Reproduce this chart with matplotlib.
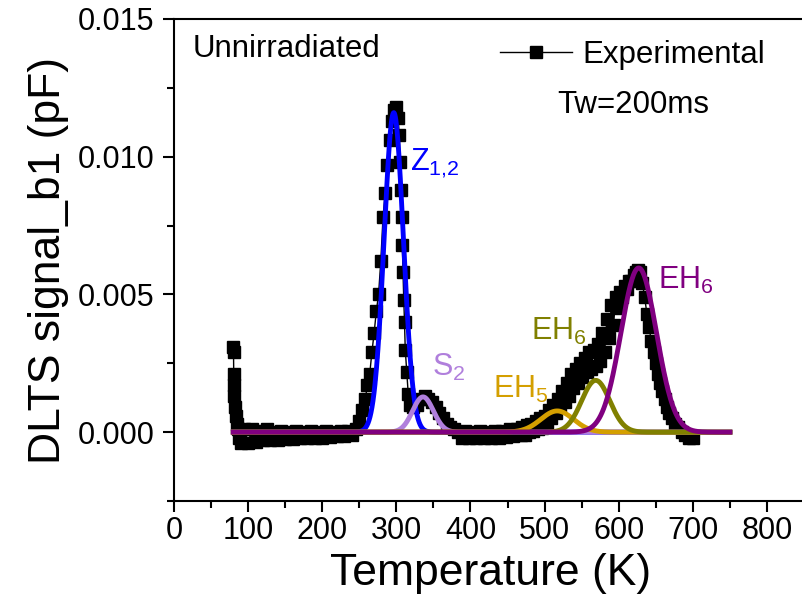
import numpy as np
import matplotlib
matplotlib.use('Agg')
import matplotlib.pyplot as plt

plt.rcParams['font.family'] = ['Liberation Sans', 'DejaVu Sans']
plt.rcParams['mathtext.fontset'] = 'custom'
plt.rcParams['mathtext.rm'] = 'Liberation Sans'
plt.rcParams['mathtext.it'] = 'Liberation Sans:italic'

# experimental DLTS scan (K, pF)
exp_T = [80, 80.3, 80.6, 81, 81.5, 82, 83, 84.5, 86, 88,
         90, 95, 100, 105, 110, 115, 120, 125, 130, 135, 140, 145, 150, 155, 160, 165,
         170, 175, 180, 185, 190, 195, 200, 205, 210, 215, 220, 225, 230, 235, 240, 245,
         250, 254, 258, 261, 264, 267, 270, 273, 276, 279, 282, 285, 288, 291, 294, 297,
         300, 302, 304, 305, 306, 307, 308, 309, 310, 311, 312, 314, 316, 319, 323, 328,
         333, 338, 343, 348, 353, 358, 363, 368, 373, 378,
         383, 388, 393, 398, 403, 408, 413, 418, 423, 428, 433, 438, 443, 448, 453, 458, 463, 468,
         470, 473, 476, 479, 482, 485, 488, 491, 494, 497, 500, 503, 506, 509, 512, 515, 518,
         521, 524, 527, 530, 533, 536, 539, 542, 545, 548, 551, 554, 557, 560, 563, 566, 569,
         572, 575, 578, 581, 584, 587, 590, 593, 596, 599, 602, 605, 608, 611, 614, 617, 620,
         623, 626, 629,
         632, 635, 638, 641, 644, 647, 650, 653, 656, 659, 662, 665, 668, 672, 676, 680, 685,
         690, 695, 700]
exp_V = [0.0031, 0.0029, 0.0021, 0.0017, 0.0013, 0.0009, 0.0006, 0.0003, 0.0001, -0.0002,
         -0.0004, 0.0001, -0.0004, 0.0001, -0.00035, 0.00005, -0.0003, 0.0001, -0.0003, 0.0,
         -0.00028, 0.00005, -0.00025, 0.0, -0.00025, 0.00005, -0.00022, 0.0, -0.0002, 0.00005,
         -0.0002, 0.0, -0.0002, 0.00005, -0.00018, 0.0, -0.00015, 0.00005, -0.00015, 0.00005,
         -0.0001, 0.0001,
         0.0004, 0.0008, 0.0012, 0.0017, 0.0021, 0.0029, 0.0036, 0.0044, 0.0050, 0.0062,
         0.0078, 0.0087, 0.0097, 0.0106, 0.0113, 0.0117, 0.0118, 0.0114, 0.0108, 0.0098,
         0.0088, 0.0078, 0.0068, 0.0058, 0.0048, 0.0040, 0.0030, 0.0022, 0.0014, 0.0010,
         0.0009, 0.0010, 0.0012, 0.0013, 0.0012, 0.0011, 0.0009, 0.0007, 0.0005, 0.0003,
         0.0002, 0.0001,
         0.0, -0.0002, 0.00005, -0.00022, 0.0, -0.00022, 0.00005, -0.0002, 0.0, -0.0002,
         0.00005, -0.0002, 0.00005, -0.00018, 0.0001, -0.00015, 0.0001, -0.0001,
         0.0002, -0.0001, 0.00025, 0.0, 0.0003, 0.00005, 0.0004, 0.0001, 0.0005, 0.00015,
         0.0006, 0.0003, 0.0008, 0.0005, 0.001, 0.0007, 0.0012, 0.0009, 0.0015, 0.0011,
         0.0018, 0.0013, 0.0021, 0.0016, 0.0023, 0.0018, 0.0025, 0.002, 0.0027, 0.0022,
         0.0029, 0.0023, 0.003, 0.0024, 0.0032, 0.0026, 0.0036, 0.0029, 0.0041, 0.0034,
         0.0046, 0.0039, 0.0049, 0.0045, 0.0051, 0.0049, 0.0053, 0.0052, 0.0055, 0.0055,
         0.0057, 0.0058, 0.0059, 0.0058,
         0.0054, 0.0049, 0.0043, 0.0038, 0.0033, 0.0029, 0.0025, 0.0021, 0.0018, 0.0015,
         0.0012, 0.0009, 0.0007, 0.0005, 0.0003, 0.0002, 0.0, -0.0001, -0.0002, -0.0002]

# gaussian fit components
peak_names = [r'Z$_{1{,}2}$', r'S$_{2}$', r'EH$_{5}$', r'EH$_{6}$', r'EH$_{6}$']
peak_centers = [296.5, 336, 517, 569, 627]
peak_heights = [0.0116, 0.00128, 0.00077, 0.00188, 0.00596]
peak_sigmas = [13, 14, 22, 19, 24]
peak_colors = ['#0000FF', '#B07FDC', '#D49F00', '#808000', '#800080']
label_pos = [(319, 0.0095), (348, 0.00205), (430, 0.00125), (481, 0.00335), (653, 0.0052)]
fit_range = (80, 750)

fig = plt.figure(figsize=(8.02, 6.02), dpi=100)
ax = fig.add_axes([174 / 802, 101 / 602, 630 / 802, 482 / 602])

T_fit = np.linspace(fit_range[0], fit_range[1], 1000)

exp_line, = ax.plot(exp_T, exp_V, '-', color='black', lw=1.0, marker='s', ms=8,
                    mec='black', mfc='black', zorder=2)

for name, c, h, s, col, pos in zip(peak_names, peak_centers, peak_heights, peak_sigmas,
                                   peak_colors, label_pos):
    ax.plot(T_fit, h * np.exp(-(T_fit - c) ** 2 / (2 * s ** 2)), '-', color=col, lw=3.5,
            zorder=3)
    ax.text(pos[0], pos[1], name, color=col, fontsize=22, ha='left', va='baseline')

ax.set_xlim(0, 850)
ax.set_ylim(-0.0025, 0.015)
ax.set_xticks(np.arange(0, 801, 100))
ax.set_xticks(np.arange(50, 851, 100), minor=True)
ax.set_yticks([0.0, 0.005, 0.010, 0.015])
ax.set_yticks([-0.0025, 0.0025, 0.0075, 0.0125], minor=True)
ax.set_yticklabels(['0.000', '0.005', '0.010', '0.015'])

for sp in ax.spines.values():
    sp.set_linewidth(1.5)
ax.tick_params(which='both', direction='out', width=1.5, labelsize=22, top=False, right=False)
ax.tick_params(which='major', length=8)
ax.tick_params(which='minor', length=5)
ax.tick_params(axis='y', pad=6)
ax.tick_params(axis='x', pad=3)

ax.set_xlabel('Temperature (K)', fontsize=32)
ax.set_ylabel('DLTS signal_b1 (pF)', fontsize=32)
ax.xaxis.set_label_coords(0.502, -0.108)
ax.yaxis.set_label_coords(-0.167, 0.50)

ax.text(0.030, 0.938, 'Unnirradiated', transform=ax.transAxes, fontsize=22.5,
        ha='left', va='center')
ax.text(0.608, 0.822, 'Tw=200ms', transform=ax.transAxes, fontsize=22.5,
        ha='left', va='center')

ax.legend([exp_line], ['Experimental'], loc='center left',
          bbox_to_anchor=(500 / 802, 1 - 55 / 602), bbox_transform=fig.transFigure,
          frameon=False, fontsize=22.5, handlelength=2.3, handletextpad=0.35,
          borderpad=0, borderaxespad=0)

fig.savefig('out.png', dpi=100)
